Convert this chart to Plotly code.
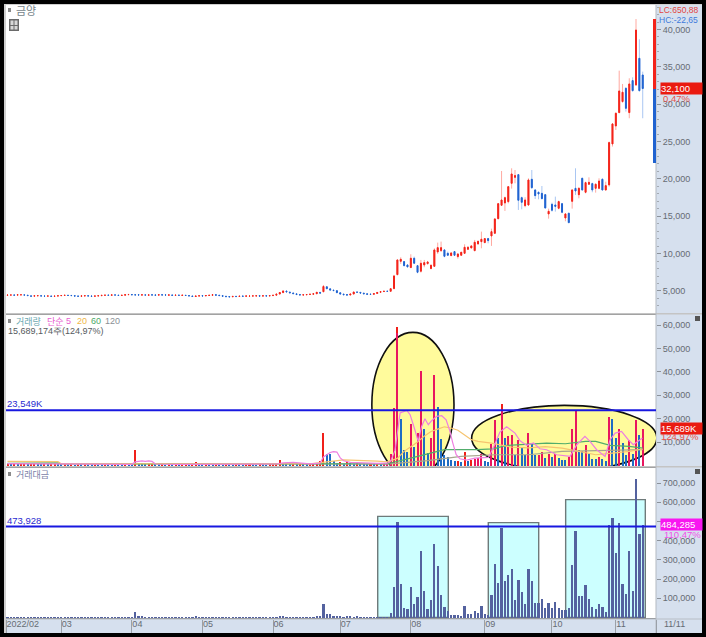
import plotly.graph_objects as go

W = 706
H = 637

# candles (one entry per trading day)
price_open = [
    4430, 4450, 4450, 4450, 4480, 4470, 4430, 4340, 4310, 4360,
    4350, 4320, 4310, 4310, 4290, 4330, 4370, 4400, 4410, 4400,
    4360, 4310, 4300, 4340, 4350, 4320, 4300, 4340, 4370, 4410,
    4440, 4430, 4470, 4430, 4400, 4440, 4500, 4520, 4490, 4480,
    4450, 4470, 4440, 4480, 4460, 4450, 4490, 4470, 4440, 4450,
    4410, 4440, 4400, 4420, 4380, 4320, 4260, 4330, 4360, 4340,
    4390, 4430, 4490, 4430, 4360, 4290, 4250, 4220, 4280, 4260,
    4310, 4300, 4310, 4320, 4330, 4360, 4320, 4350, 4340, 4380,
    4440, 4590, 4780, 4990, 4850, 4730, 4610, 4510, 4460, 4490,
    4530, 4570, 4630, 4810, 4900, 5560, 5280, 5110, 5040, 4760,
    4580, 4510, 4460, 4590, 4850, 4810, 4710, 4610, 4570, 4560,
    4660, 4830, 4920, 4960, 4960, 5320, 7190, 8970, 8930, 8480,
    8130, 9380, 8390, 7640, 8480, 8660, 8000, 8300, 10220, 10400,
    10490, 10040, 9730, 10270, 9600, 9780, 10040, 10580, 10760, 10400,
    11290, 11600, 11470, 12010, 12360, 12720, 14680, 16470, 16780, 16960,
    19410, 20210, 20570, 17490, 16420, 16510, 19950, 18520, 18210, 18070,
    17890, 15310, 16600, 16510, 16070, 16690, 14770, 15400, 17000, 18740,
    17890, 20080, 18210, 19280, 19370, 18740, 18740, 19950, 18520, 19200,
    24680, 27090, 28880, 30350, 32130, 28880, 33160, 32580, 36140, 33910,
]
price_close = [
    4450, 4460, 4440, 4480, 4490, 4450, 4380, 4300, 4350, 4370,
    4330, 4310, 4330, 4280, 4310, 4350, 4390, 4420, 4400, 4380,
    4320, 4290, 4340, 4360, 4330, 4290, 4330, 4360, 4410, 4440,
    4420, 4470, 4450, 4400, 4420, 4500, 4530, 4490, 4470, 4460,
    4480, 4450, 4470, 4460, 4440, 4480, 4460, 4450, 4470, 4420,
    4440, 4410, 4430, 4390, 4340, 4270, 4320, 4350, 4330, 4390,
    4420, 4490, 4440, 4380, 4300, 4240, 4210, 4270, 4250, 4300,
    4290, 4330, 4320, 4340, 4350, 4310, 4350, 4330, 4370, 4420,
    4570, 4790, 5000, 4880, 4750, 4640, 4520, 4470, 4480, 4520,
    4560, 4620, 4820, 4710, 5600, 5300, 5120, 5050, 4770, 4590,
    4500, 4450, 4580, 4860, 4830, 4720, 4620, 4560, 4540, 4640,
    4800, 4900, 4960, 4950, 5300, 7010, 9150, 9240, 8390, 8220,
    9380, 8710, 7500, 8710, 8790, 8880, 8440, 10490, 10800, 10800,
    9640, 9780, 10090, 9780, 9950, 10180, 10850, 10850, 11030, 11520,
    11650, 11920, 12010, 11740, 12940, 14640, 16690, 17180, 17490, 18960,
    20660, 20440, 17140, 16870, 17180, 19860, 18830, 17760, 17980, 17360,
    16110, 15660, 15800, 16330, 16960, 15530, 15310, 14150, 18520, 18380,
    18740, 18520, 19500, 19540, 18520, 19280, 19720, 18520, 19100, 24860,
    27360, 28790, 31770, 31600, 29450, 32710, 31820, 39930, 31820, 32100,
]
price_high = [
    4470, 4480, 4470, 4510, 4510, 4490, 4440, 4350, 4370, 4390,
    4370, 4340, 4350, 4330, 4330, 4370, 4410, 4440, 4430, 4420,
    4380, 4330, 4360, 4380, 4370, 4340, 4350, 4380, 4420, 4460,
    4460, 4490, 4490, 4440, 4440, 4520, 4560, 4550, 4510, 4500,
    4500, 4490, 4490, 4500, 4480, 4500, 4510, 4490, 4490, 4470,
    4460, 4460, 4450, 4440, 4400, 4340, 4340, 4370, 4380, 4410,
    4440, 4510, 4520, 4450, 4380, 4310, 4270, 4290, 4300, 4320,
    4330, 4350, 4340, 4360, 4370, 4380, 4370, 4370, 4390, 4440,
    4600, 4830, 5050, 5020, 4880, 4760, 4640, 4530, 4500, 4540,
    4580, 4640, 4850, 4840, 5800, 5600, 5310, 5140, 5080, 4780,
    4600, 4530, 4600, 4880, 4880, 4830, 4730, 4630, 4590, 4660,
    4820, 4920, 4990, 4990, 5360, 7150, 9200, 9510, 9020, 8530,
    9910, 9600, 8480, 9150, 9150, 9020, 8530, 10710, 11470, 11610,
    10580, 10270, 10130, 10310, 10040, 10220, 11250, 10980, 11070, 11830,
    11700, 12940, 12050, 12100, 13340, 14730, 16730, 21060, 17630, 19050,
    21420, 21190, 20660, 17630, 17540, 20080, 21190, 18610, 18300, 19050,
    17980, 16020, 16820, 17630, 17090, 16780, 15400, 15480, 18610, 21420,
    18880, 20170, 19630, 20210, 19500, 19410, 20080, 20080, 19630, 25000,
    27450, 28880, 34490, 32710, 32260, 33470, 33600, 41400, 38690, 34360,
]
price_low = [
    4410, 4430, 4420, 4430, 4460, 4430, 4360, 4280, 4290, 4340,
    4310, 4290, 4290, 4260, 4270, 4310, 4350, 4380, 4380, 4360,
    4300, 4270, 4280, 4320, 4310, 4270, 4280, 4320, 4350, 4390,
    4400, 4410, 4430, 4380, 4380, 4420, 4480, 4470, 4450, 4440,
    4430, 4430, 4420, 4440, 4420, 4430, 4440, 4430, 4420, 4400,
    4390, 4390, 4380, 4370, 4320, 4250, 4240, 4310, 4310, 4320,
    4370, 4410, 4420, 4360, 4280, 4220, 4190, 4200, 4230, 4240,
    4270, 4280, 4290, 4300, 4310, 4290, 4300, 4310, 4320, 4360,
    4420, 4570, 4760, 4860, 4730, 4620, 4500, 4450, 4440, 4470,
    4510, 4550, 4610, 4690, 4830, 5280, 5100, 5030, 4750, 4570,
    4480, 4430, 4440, 4570, 4810, 4700, 4600, 4540, 4520, 4540,
    4640, 4810, 4900, 4930, 4900, 5230, 7100, 8620, 8300, 8180,
    8130, 8620, 7370, 7460, 8170, 8530, 7900, 8260, 9960, 10220,
    9510, 9690, 9690, 9730, 9330, 9730, 9950, 10490, 10710, 10310,
    11250, 10710, 11430, 11380, 11030, 12630, 14590, 16380, 15710, 16730,
    18700, 19410, 15840, 15930, 16200, 16380, 18650, 17310, 17270, 17270,
    16020, 14680, 15620, 15620, 15930, 15400, 14330, 14060, 16020, 17850,
    17400, 18430, 18070, 19190, 18210, 18160, 18610, 18430, 18430, 18970,
    24330, 26550, 28790, 30210, 29010, 28120, 31680, 32440, 31680, 28120,
]

# volume in thousands of shares
volume = [
    820, 760, 880, 690, 740, 900, 610, 640, 820, 700,
    650, 720, 580, 640, 760, 530, 430, 510, 390, 470,
    360, 480, 410, 530, 440, 390, 520, 460, 410, 500,
    420, 380, 560, 470, 410, 620, 530, 450, 6700, 1150,
    1050, 420, 510, 900, 460, 390, 520, 380, 440, 400,
    470, 360, 410, 520, 380, 450, 1550, 600, 390, 470,
    420, 390, 510, 440, 360, 470, 400, 350, 440, 390,
    360, 430, 520, 410, 380, 460, 400, 350, 420, 760,
    1050, 2700, 1200, 850, 640, 720, 560, 680, 610, 520,
    640, 780, 1100, 2000, 14250, 5100, 4900, 2140, 1280, 1700,
    1000, 1500, 1200, 1000, 1800, 1000, 900, 820, 980, 760,
    880, 840, 1050, 1180, 5270, 24940, 59570, 19900, 6980, 6130,
    18100, 8120, 13900, 40755, 15960, 5700, 11970, 39050, 25220, 11680,
    4560, 3850, 2700, 2000, 2100, 1710, 5985, 2140, 2420, 3135,
    3280, 5270, 2140, 1570, 9550, 19800, 11970, 26360, 12110, 12825,
    13110, 4850, 11260, 8120, 4560, 14250, 9975, 4560, 4600, 5985,
    3560, 5270, 3850, 5270, 3560, 2700, 2420, 3850, 15960, 23510,
    6700, 6410, 9120, 5270, 3135, 2850, 3850, 3135, 2140, 20950,
    20100, 12100, 15960, 9830, 4560, 11260, 5270, 19520, 13110, 15689,
]

# traded value
amount = [
    3500, 4000, 3000, 4500, 3500, 4000, 3000, 2500, 3500, 3000,
    3000, 3500, 2500, 3000, 3500, 2500, 2000, 2500, 2000, 2500,
    2000, 2500, 2000, 2500, 2000, 2000, 2500, 2000, 2000, 2500,
    2000, 3000, 3500, 5000, 3500, 4500, 3000, 2500, 30000, 8000,
    6000, 2500, 3000, 4000, 2500, 2000, 2500, 2000, 2500, 2000,
    2500, 2000, 3000, 2500, 2000, 3000, 9000, 3000, 2000, 2500,
    2500, 2000, 3000, 2500, 2000, 2500, 2000, 2000, 2500, 2000,
    2000, 2500, 3000, 2500, 2000, 2500, 2000, 2000, 2500, 4000,
    5000, 12000, 7000, 5000, 3000, 3500, 3000, 3500, 3000, 3000,
    3500, 4000, 7000, 10000, 72500, 21000, 21000, 9000, 7000, 8000,
    5000, 6000, 6500, 5000, 8000, 4000, 3500, 3000, 4000, 3000,
    3500, 3500, 4000, 4500, 27800, 161700, 500800, 179100, 53900, 47000,
    161700, 71300, 109600, 351300, 142600, 47000, 95600, 384300, 269500, 121700,
    59100, 34800, 15600, 13900, 13900, 12200, 60900, 19100, 19100, 36500,
    26100, 64300, 19100, 13900, 118300, 281700, 182600, 469500, 194800, 226100,
    257400, 95600, 200000, 135600, 74800, 257400, 191300, 80000, 80000, 100900,
    53900, 80000, 53900, 83500, 50400, 40000, 40000, 50400, 276500, 453900,
    113000, 113000, 170400, 100900, 55600, 47000, 71300, 55600, 31300, 486900,
    521700, 340800, 495600, 179100, 126900, 351300, 142600, 723400, 436500, 484285,
]

# volume moving averages, read at the days where the line turns
ma5_days = [0, 36, 37, 38, 39, 40, 41, 42, 43, 44, 50, 55, 56, 58, 60, 78, 80, 82, 85, 90,
            92, 93, 94, 95, 96, 97, 98, 99, 100, 102, 105, 110, 113, 114, 115.3, 116.8, 118.8, 119.8,
            121.2, 122.2, 123.2, 124.2, 125.2, 126.2, 127.7, 129.2, 130.5, 131.5, 132.5, 133.5, 134.6,
            136.6, 139.1, 141.1, 143.1, 144.6, 146.5, 148.5, 151, 152.5, 154.5, 156.5, 158.4, 160.4,
            163.4, 167.4, 169.4, 171.8, 173.3, 175.3, 177.8, 179.3, 180.8, 182.7, 184.7, 186.2, 187.7, 188.9]
ma5_vals = [760, 480, 470, 1500, 1800, 1900, 1750, 1900, 1700, 600, 430, 430, 700, 700, 450, 420, 600, 1100, 1300, 640,
            700, 1000, 3600, 4400, 5500, 5900, 5700, 3200, 2000, 1300, 1100, 900, 950, 1800, 6400, 22370, 23500, 21660,
            15250, 10260, 16670, 19950, 17385, 19100, 20950, 21230, 19520, 15250, 9550, 4560, 2850,
            2280, 3130, 3420, 3420, 7700, 14250, 16530, 13800, 10550, 8550, 9550, 7125, 6700,
            4560, 3850, 8835, 12400, 10260, 6700, 3850, 10970, 13820, 14535, 10970, 8835, 10260, 11685]
ma20_days = [0, 15, 16, 40, 60, 90, 95, 100, 110, 113, 116, 118, 120, 122, 124, 126, 128, 130, 132,
             134, 136, 138, 140, 144, 150, 155, 160, 165, 170, 175, 180, 185, 189]
ma20_vals = [1700, 1600, 700, 800, 600, 700, 1500, 2400, 1800, 1500, 3000, 6000, 8000, 10000, 12500, 14500, 15500, 16500, 16000,
             15000, 13000, 11000, 10300, 9500, 7800, 7500, 8000, 7400, 6000, 4560, 5270, 6000, 7000]
ma60_days = [0, 8, 15, 16, 60, 100, 113, 120, 125, 130, 139.6, 144.5, 148.5, 154.5, 160.4, 166, 172, 175, 179.3, 185, 189]
ma60_vals = [900, 1100, 1100, 600, 500, 700, 700, 3135, 4850, 6700, 6700, 7100, 8550, 9120, 9550, 9260, 10260, 10260, 8550, 8120, 7400]
ma120_days = [0, 60, 100, 113, 125, 135, 145, 155, 165, 189]
ma120_vals = [800, 550, 650, 570, 2000, 3850, 4560, 4560, 5985, 6700]

# the last-price bar beside the price axis
range_bar_base = [32100, 22180]
range_bar_len = [9300, 9920]

month_ticks = [-0.45, 16, 37, 58, 79, 99, 120, 142, 162, 181, 192.95]
month_labels = ["2022/02", "03", "04", "05", "06", "07", "08", "09", "10", "11", "\u00a0\u00a0\u00a011/11"]
price_ticks = [5000, 10000, 15000, 20000, 25000, 30000, 35000, 40000]
volume_ticks = [10000, 20000, 30000, 40000, 50000, 60000]
amount_ticks = [100000, 200000, 300000, 400000, 500000, 600000, 700000]

volume_line = 23549
amount_line = 473928

NARROW = "Liberation Sans"
KOREAN = "Noto Sans CJK KR"
BAND = "#d6e0ee"
GREY_TEXT = "#666c74"
X_RANGE = [-0.45, 192.95]


def px(x):
    return x / W


def py(y):
    return 1 - y / H


days = list(range(len(price_close)))
body_top = [max(o, c) for o, c in zip(price_open, price_close)]
body_bottom = [min(o, c) for o, c in zip(price_open, price_close)]

red_in_ellipse = "#e8175f"
vol_colors = []
for i, v in enumerate(volume):
    up = i == 0 or v >= volume[i - 1]
    if not up:
        vol_colors.append("#1f6cc4")
    elif 112 <= i <= 131 or 139 <= i <= 189:
        vol_colors.append(red_in_ellipse)
    else:
        vol_colors.append("#f0201a")

fig = go.Figure()

# wicks in a pale tint, then the bodies on top in full colour
fig.add_trace(go.Candlestick(
    x=days, open=price_open, high=price_high, low=price_low, close=price_close,
    increasing=dict(line=dict(color="#ffa9a0", width=1), fillcolor="#f3231a"),
    decreasing=dict(line=dict(color="#a9c6f2", width=1), fillcolor="#1f62d0"),
    whiskerwidth=0, xaxis="x", yaxis="y", hoverinfo="skip"))
fig.add_trace(go.Candlestick(
    x=days, open=price_open, high=body_top, low=body_bottom, close=price_close,
    increasing=dict(line=dict(color="#f3231a", width=1), fillcolor="#f3231a"),
    decreasing=dict(line=dict(color="#1f62d0", width=1), fillcolor="#1f62d0"),
    whiskerwidth=0, xaxis="x", yaxis="y", hoverinfo="skip"))
fig.add_trace(go.Bar(x=[192.5, 192.5], base=range_bar_base, y=range_bar_len, width=0.7,
                     marker=dict(color=["#f3231a", "#1f62d0"], line=dict(width=0)),
                     xaxis="x", yaxis="y", cliponaxis=False))

fig.add_trace(go.Bar(x=days, y=volume, width=0.6, marker=dict(color=vol_colors, line=dict(width=0)),
                     xaxis="x2", yaxis="y2"))
# tips of the two spikes that stick out above the yellow ellipses
fig.add_trace(go.Bar(x=[116, 147], base=[56800, 24000], y=[2770, 2360], width=0.6,
                     marker=dict(color="#f0201a", line=dict(width=0)), xaxis="x2", yaxis="y2"))
for ma_x, ma_y, color in [(ma120_days, ma120_vals, "#a8a68e"), (ma60_days, ma60_vals, "#52ad6c"),
                          (ma20_days, ma20_vals, "#f6c470"), (ma5_days, ma5_vals, "#ee7fe0")]:
    fig.add_trace(go.Scatter(x=ma_x, y=ma_y, mode="lines", line=dict(color=color, width=1.2),
                             xaxis="x2", yaxis="y2"))

fig.add_trace(go.Bar(x=days, y=amount, width=0.68,
                     marker=dict(color="#54629f", line=dict(width=0)), xaxis="x3", yaxis="y3"))

shapes = []
# frame pieces
for x0, y0, x1, y1, color in [
    (4, 4, 6, 633, "#cfcfcf"),
    (4, 4, 702, 5, "#cfcfcf"),
    (656, 5, 702, 633, BAND),
    (6, 619, 656, 633, BAND),
    (6, 313, 702, 314.5, "#c4c4c4"),
    (6, 466, 702, 467.5, "#c4c4c4"),
    (6, 618.5, 702, 619.5, "#b8bec6"),
    (655.5, 5, 656.5, 633, "#b4bac2"),
    (8, 8, 11, 12, "#8a8a8a"),
    (8, 319, 11, 323, "#8a8a8a"),
    (8, 472, 11, 476, "#8a8a8a"),
    (695, 316, 700, 321, "#555555"),
    (695, 469, 700, 474, "#555555"),
    (9, 19, 19, 31, "#6a6a6a"),
    (10.5, 20.5, 13.5, 25, "#d8d8d8"),
    (14.5, 20.5, 17.5, 25, "#d8d8d8"),
    (10.5, 26, 13.5, 29.5, "#d8d8d8"),
    (14.5, 26, 17.5, 29.5, "#d8d8d8"),
]:
    shapes.append(dict(type="rect", xref="paper", yref="paper", x0=px(x0), x1=px(x1), y0=py(y0), y1=py(y1),
                       fillcolor=color, line=dict(width=0), layer="below"))

# hand-drawn highlights
for x0, x1, y0, y1 in [(108.4, 132.85, -4960, 56840), (138.1, 193.2, -2260, 25640)]:
    shapes.append(dict(type="circle", xref="x2", yref="y2", x0=x0, x1=x1, y0=y0, y1=y1,
                       fillcolor="#fffb9c", line=dict(color="#101010", width=1.6), layer="below"))
for x0, x1, top in [(110.15, 131.15, 526900), (143.05, 158.05, 493900), (166.07, 189.77, 613900)]:
    shapes.append(dict(type="rect", xref="x3", yref="y3", x0=x0, x1=x1, y0=0, y1=top,
                       fillcolor="#ccffff", line=dict(color="#6e7a7a", width=1.4), layer="below"))

shapes.append(dict(type="line", xref="x2 domain", yref="y2", x0=0, x1=1, y0=volume_line, y1=volume_line,
                   line=dict(color="#1818e0", width=2)))
shapes.append(dict(type="line", xref="x3 domain", yref="y3", x0=0, x1=1, y0=amount_line, y1=amount_line,
                   line=dict(color="#1818e0", width=2)))


def label(text, x, y, color, size=9, family=NARROW, bg=None, width=None, yref="paper"):
    note = dict(text=text, xref="paper", yref=yref, x=px(x), y=py(y) if yref == "paper" else y,
                xanchor="left", yanchor="middle", showarrow=False,
                font=dict(family=family, size=size, color=color), borderpad=0)
    if bg:
        note.update(bgcolor=bg, width=width, height=10.5, align="left")
    return note


annotations = [
    label("금양", 15, 10, "#76848a", 11, KOREAN),
    label("LC:650,88", 658, 10, "#e2453e", 8.5),
    label("HC:-22,65", 658, 20, "#3f7bdc", 8.5),
    label("32,100", 660, 32100, "#ffffff", 9.5, bg="#ea1a10", width=41, yref="y"),
    label("0,47%", 662, 98.5, "#e8534c", 9.5),
    label("거래량", 15, 321, "#6aa8b0", 9, KOREAN),
    label("단순", 46, 321, "#e860d0", 9, KOREAN),
    label("5", 65, 321, "#e860d0"),
    label("20", 75.5, 321, "#f0b848"),
    label("60", 90, 321, "#4caa68"),
    label("120", 104, 321, "#8a8f96"),
    label("15,689,174주(124,97%)", 7, 331, "#555a60"),
    label("23,549K", 6, 403, "#2a2ad0", 9.5),
    label("15,689K", 660, 15689, "#ffffff", 9.5, bg="#ea1a10", width=41, yref="y2"),
    label("124,97%", 660, 436, "#e8534c", 9.5),
    label("거래대금", 15, 474, "#7b82a8", 9, KOREAN),
    label("473,928", 6, 520, "#2a2ad0", 9.5),
    label("484,285", 660, 484285, "#ffffff", 9.5, bg="#f816f0", width=41, yref="y3"),
    label("110,47%", 663, 534, "#f050e8", 9.5),
]

y_common = dict(side="right", showgrid=False, zeroline=False, ticks="outside", ticklen=4, tickcolor="#8c929a",
                tickfont=dict(family=NARROW, size=9, color=GREY_TEXT), tickformat=",", showline=False,
                fixedrange=True, automargin=False)
x_common = dict(domain=[px(6), px(656)], range=X_RANGE, showgrid=False, zeroline=False, showline=False,
                fixedrange=True, rangeslider=dict(visible=False), automargin=False)

fig.update_layout(
    width=W, height=H, margin=dict(l=0, r=0, t=0, b=0),
    paper_bgcolor="#000000", plot_bgcolor="#ffffff",
    showlegend=False, barmode="overlay", boxmode="overlay", boxgap=0.6, bargap=0,
    shapes=shapes, annotations=annotations,
    xaxis=dict(anchor="y", showticklabels=False, ticks="", **x_common),
    xaxis2=dict(anchor="y2", showticklabels=False, ticks="", **x_common),
    xaxis3=dict(anchor="y3", tickmode="array", tickvals=month_ticks, ticktext=month_labels,
                ticks="outside", ticklen=13, tickcolor="#9aa0a8", ticklabelposition="outside right",
                ticklabelstandoff=-3,
                tickfont=dict(family=NARROW, size=9, color=GREY_TEXT), **x_common),
    yaxis=dict(domain=[py(313), py(5)], range=[2049, 43280], anchor="x", tickmode="array", tickvals=price_ticks,
               minor=dict(dtick=1000, ticks="outside", ticklen=2, tickcolor="#a4aab2"), **y_common),
    yaxis2=dict(domain=[py(466), py(314.5)], range=[-256, 64487], anchor="x2", tickmode="array",
                tickvals=volume_ticks, ticksuffix="K", **y_common),
    yaxis3=dict(domain=[py(618.5), py(467.5)], range=[-5208, 781250], anchor="x3", tickmode="array",
                tickvals=amount_ticks, **y_common),
)

fig.write_html("out.html", config={"displayModeBar": False},
               post_script="document.body.style.margin='0';document.body.style.overflow='hidden';")
